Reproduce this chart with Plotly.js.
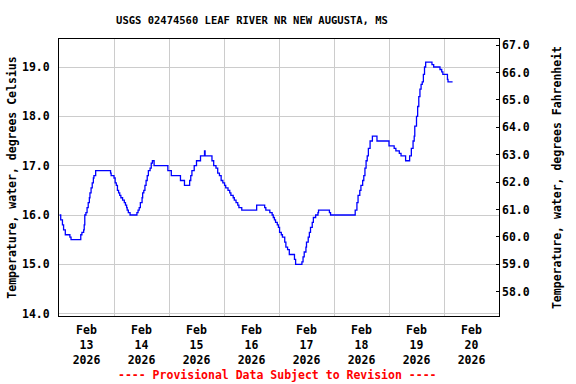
<!DOCTYPE html>
<html>
<head>
<meta charset="utf-8">
<script src="https://cdn.plot.ly/plotly-3.0.1.min.js"></script>
<style>html,body{margin:0;padding:0;background:#fff;}#chart{width:576px;height:384px;}</style>
</head>
<body>
<div id="chart"></div>
<script>
// Change points of the 15-minute record (value holds until next time)
const times = [
 "2026-02-13 00:15","2026-02-13 00:45","2026-02-13 01:30","2026-02-13 02:00","2026-02-13 02:45",
 "2026-02-13 04:45","2026-02-13 05:15","2026-02-13 09:30","2026-02-13 10:00","2026-02-13 10:45",
 "2026-02-13 11:00","2026-02-13 11:15","2026-02-13 11:45","2026-02-13 12:15","2026-02-13 12:45",
 "2026-02-13 13:15","2026-02-13 13:30","2026-02-13 14:00","2026-02-13 14:30","2026-02-13 15:00",
 "2026-02-13 15:15","2026-02-13 16:00","2026-02-13 22:30","2026-02-13 22:45","2026-02-14 00:00",
 "2026-02-14 00:30","2026-02-14 01:00","2026-02-14 01:30","2026-02-14 02:00","2026-02-14 02:30",
 "2026-02-14 03:00","2026-02-14 03:45","2026-02-14 04:30","2026-02-14 05:00","2026-02-14 05:30",
 "2026-02-14 05:45","2026-02-14 06:15","2026-02-14 07:00","2026-02-14 10:00","2026-02-14 10:30",
 "2026-02-14 11:00","2026-02-14 11:30","2026-02-14 12:15","2026-02-14 12:30","2026-02-14 13:00",
 "2026-02-14 13:30","2026-02-14 14:00","2026-02-14 14:30","2026-02-14 15:00","2026-02-14 15:45",
 "2026-02-14 16:15","2026-02-14 16:45","2026-02-14 17:30","2026-02-14 23:30","2026-02-15 01:00",
 "2026-02-15 05:00","2026-02-15 06:45","2026-02-15 09:00","2026-02-15 09:30","2026-02-15 10:00",
 "2026-02-15 11:00","2026-02-15 12:00","2026-02-15 13:45","2026-02-15 15:30","2026-02-15 15:45",
 "2026-02-15 18:45","2026-02-15 19:30","2026-02-15 20:30","2026-02-15 21:15","2026-02-15 22:00",
 "2026-02-15 22:45","2026-02-15 23:30","2026-02-16 00:15","2026-02-16 00:45","2026-02-16 01:45",
 "2026-02-16 02:30","2026-02-16 03:00","2026-02-16 04:00","2026-02-16 04:30","2026-02-16 05:15",
 "2026-02-16 06:00","2026-02-16 06:30","2026-02-16 07:45","2026-02-16 14:15","2026-02-16 17:45",
 "2026-02-16 18:15","2026-02-16 20:00","2026-02-16 21:00","2026-02-16 21:30","2026-02-16 22:00",
 "2026-02-16 22:30","2026-02-16 23:15","2026-02-16 23:45","2026-02-17 00:15","2026-02-17 01:00",
 "2026-02-17 01:30","2026-02-17 02:30","2026-02-17 03:00","2026-02-17 03:45","2026-02-17 04:30",
 "2026-02-17 06:45","2026-02-17 07:15","2026-02-17 10:00","2026-02-17 10:30","2026-02-17 11:00",
 "2026-02-17 11:45","2026-02-17 12:00","2026-02-17 12:45","2026-02-17 13:15","2026-02-17 13:45",
 "2026-02-17 14:30","2026-02-17 15:00","2026-02-17 16:00","2026-02-17 17:00","2026-02-17 17:15",
 "2026-02-17 22:00","2026-02-17 22:30","2026-02-18 09:15","2026-02-18 10:00","2026-02-18 10:30",
 "2026-02-18 11:15","2026-02-18 11:45","2026-02-18 12:30","2026-02-18 13:00","2026-02-18 13:30",
 "2026-02-18 14:00","2026-02-18 14:30","2026-02-18 15:00","2026-02-18 15:45","2026-02-18 16:45",
 "2026-02-18 18:45","2026-02-19 00:00","2026-02-19 02:15","2026-02-19 03:00","2026-02-19 04:30",
 "2026-02-19 05:15","2026-02-19 07:15","2026-02-19 09:00","2026-02-19 09:45","2026-02-19 10:30",
 "2026-02-19 11:00","2026-02-19 11:15","2026-02-19 12:00","2026-02-19 12:30","2026-02-19 13:00",
 "2026-02-19 13:30","2026-02-19 14:00","2026-02-19 14:30","2026-02-19 15:00","2026-02-19 15:30",
 "2026-02-19 16:00","2026-02-19 18:45","2026-02-19 19:30","2026-02-19 22:15","2026-02-19 23:00",
 "2026-02-19 23:30","2026-02-20 01:30","2026-02-20 01:45","2026-02-20 03:45"
];
const tempC = [
 16.0,15.9,15.8,15.7,15.6,
 15.55,15.5,15.6,15.65,15.7,
 15.8,16.0,16.05,16.15,16.25,
 16.35,16.45,16.55,16.65,16.75,
 16.8,16.9,16.85,16.8,16.75,
 16.65,16.6,16.5,16.45,16.4,
 16.35,16.3,16.25,16.2,16.15,
 16.1,16.05,16.0,16.05,16.1,
 16.15,16.25,16.35,16.45,16.5,
 16.6,16.7,16.8,16.9,16.95,
 17.05,17.1,17.0,16.9,16.8,
 16.7,16.6,16.7,16.8,16.9,
 17.0,17.1,17.2,17.3,17.2,
 17.1,17.0,16.95,16.85,16.8,
 16.7,16.65,16.6,16.55,16.5,
 16.45,16.4,16.35,16.3,16.25,
 16.2,16.15,16.1,16.2,16.15,
 16.1,16.05,16.0,15.95,15.9,
 15.85,15.8,15.75,15.65,15.6,
 15.55,15.45,15.35,15.3,15.2,
 15.1,15.0,15.05,15.15,15.25,
 15.35,15.45,15.55,15.65,15.75,
 15.85,15.95,16.0,16.05,16.1,
 16.05,16.0,16.1,16.25,16.4,
 16.5,16.6,16.7,16.8,16.95,
 17.1,17.2,17.35,17.5,17.6,
 17.5,17.4,17.35,17.3,17.25,
 17.2,17.1,17.2,17.35,17.5,
 17.6,17.8,18.0,18.2,18.4,
 18.55,18.65,18.7,18.85,19.0,
 19.1,19.05,19.0,18.95,18.9,
 18.85,18.75,18.7,18.7
];
const chartTitle = "USGS 02474560 LEAF RIVER NR NEW AUGUSTA, MS";
const leftTitle = "Temperature, water, degrees Celsius";
const rightTitle = "Temperature, water, degrees Fahrenheit";
const footnote = "---- Provisional Data Subject to Revision ----";

const cRange = [13.953, 19.568];
const fRange = cRange.map(c => c * 1.8 + 32);
const F = {family: "DejaVu Sans Mono, monospace", size: 11.5, color: "#000", weight: "bold"};

const trace = {
  x: times, y: tempC, type: "scatter", mode: "lines",
  line: {color: "#0000ff", width: 1.3, shape: "hv"},
  hoverinfo: "skip", showlegend: false
};
const dummy = {x: [times[0]], y: [tempC[0]*1.8+32], yaxis: "y2", type: "scatter", mode: "markers",
  marker: {opacity: 0}, showlegend: false, hoverinfo: "skip"};

const layout = {
  width: 576, height: 384,
  margin: {l: 58.5, r: 76.7, t: 39.3, b: 68},
  paper_bgcolor: "#fff", plot_bgcolor: "#fff",
  font: F,
  title: {text: chartTitle, font: {family: F.family, size: 10.5, color: "#000", weight: "bold"},
          x: 252/576, xref: "container", xanchor: "center", y: 1 - 20.5/384, yref: "container", yanchor: "middle"},
  xaxis: {
    type: "date", range: ["2026-02-13 00:00", "2026-02-21 00:00"],
    tick0: "2026-02-13", dtick: 86400000, ticklabelmode: "period",
    tickformat: "%b<br>%d<br>%Y", ticks: "", showgrid: true, gridcolor: "#cccccc", gridwidth: 1,
    showline: true, linecolor: "#000", linewidth: 1, mirror: true, zeroline: false,
    ticklabelstandoff: 3, tickfont: F
  },
  yaxis: {
    range: cRange, tick0: 14, dtick: 1, tickformat: ".1f",
    showgrid: true, gridcolor: "#cccccc", gridwidth: 1, zeroline: false,
    showline: true, linecolor: "#000", linewidth: 1, mirror: true,
    ticks: "", ticklabelstandoff: 6,
    title: {text: leftTitle, font: F, standoff: 2}, tickfont: F
  },
  yaxis2: {
    overlaying: "y", side: "right", range: fRange, tick0: 58, dtick: 1, tickformat: ".1f",
    showgrid: false, zeroline: false, showline: false,
    ticks: "inside", ticklen: 3, tickcolor: "#000", ticklabelstandoff: 2,
    title: {text: rightTitle, font: F, standoff: 24}, tickfont: F
  },
  annotations: [{
    text: footnote, xref: "paper", yref: "paper", x: 0.4957, y: (316-375)/276.7,
    xanchor: "center", yanchor: "middle", showarrow: false,
    font: {family: F.family, size: 11.5, color: "#ff0000", weight: "bold"}
  }]
};
Plotly.newPlot("chart", [trace, dummy], layout, {staticPlot: true, displayModeBar: false});
</script>
</body>
</html>
